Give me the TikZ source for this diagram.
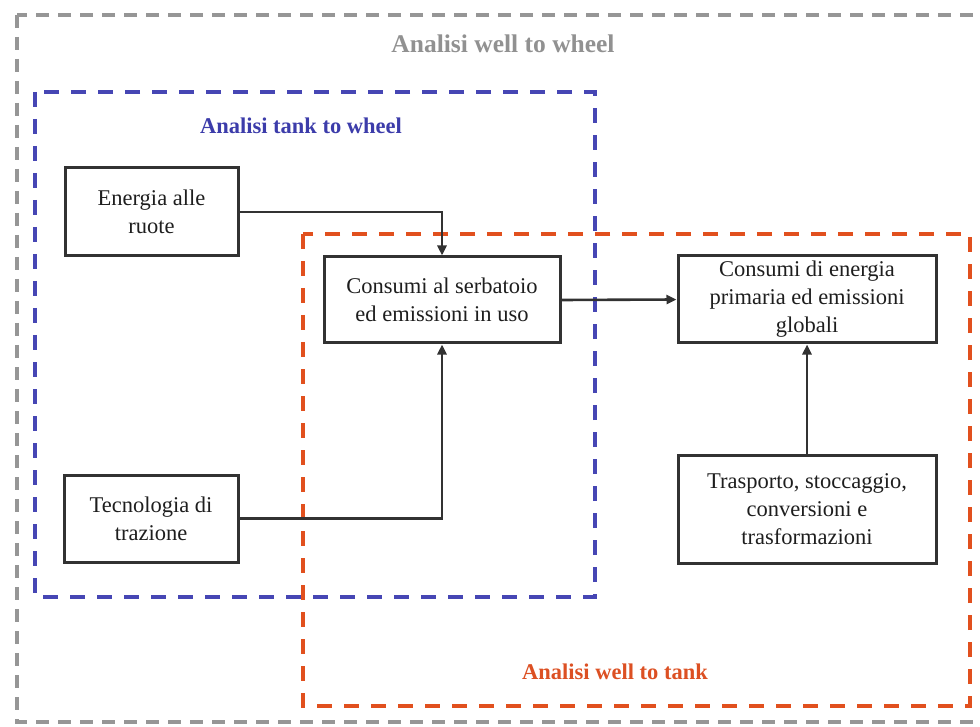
\documentclass[tikz,border=0pt]{standalone}
\usepackage{fontspec}
\setmainfont{Liberation Serif}
\usetikzlibrary{arrows.meta}
\definecolor{grayframe}{RGB}{150,150,150}
\definecolor{grayttl}{RGB}{145,145,145}
\definecolor{blueframe}{RGB}{70,70,180}
\definecolor{bluettl}{RGB}{60,60,170}
\definecolor{orangeframe}{RGB}{225,80,30}
\definecolor{orangettl}{RGB}{220,80,35}
\definecolor{boxline}{RGB}{50,50,50}
\definecolor{boxtext}{RGB}{30,30,30}
\tikzset{
  procbox/.style={draw=boxline, line width=3pt, align=center, inner sep=0pt,
    text=boxtext, font=\fontsize{22.5}{28}\selectfont},
  conn/.style={draw=boxline, line width=2.6pt,
    -{Triangle[length=10pt,width=9pt]}},
  frameg/.style={draw=grayframe, line width=4.5pt, dash pattern=on 13pt off 9pt},
  frameb/.style={draw=blueframe, line width=4.5pt, dash pattern=on 15pt off 12pt},
  frameo/.style={draw=orangeframe, line width=4.5pt, dash pattern=on 15pt off 12pt},
  ttl/.style={font=\bfseries\fontsize{22.5}{26}\selectfont, inner sep=0pt}
}
\begin{document}
\begin{tikzpicture}[x=1pt,y=-1pt]
\useasboundingbox (0,0) rectangle (980,727);
\begin{scope}
  \clip (0,0) rectangle (980,727);
  \draw[frameg] (17,15) rectangle (998,722);
\end{scope}
\draw[frameb] (35,92) rectangle (595,597);
\draw[frameo] (303,234) rectangle (970,706);

\node[ttl, text=grayttl, font=\bfseries\fontsize{25.5}{28}\selectfont] (tw) at (503,44) {Analisi well to wheel};
\node[ttl, text=bluettl] (tt) at (301,126) {Analisi tank to wheel};
\node[ttl, text=orangettl] (wt) at (615,672) {Analisi well to tank};

\node[procbox, minimum width=173pt, minimum height=88pt] (E) at (151.5,212) {Energia alle\\ruote};
\node[procbox, minimum width=236pt, minimum height=86pt] (C) at (442,300) {Consumi al serbatoio\\ed emissioni in uso};
\node[procbox, minimum width=258pt, minimum height=87pt] (P) at (807,299.5) {Consumi di energia\\primaria ed emissioni\\globali};
\node[procbox, minimum width=174pt, minimum height=87pt] (T) at (151,518.5) {Tecnologia di\\trazione};
\node[procbox, minimum width=258pt, minimum height=108pt] (S) at (807,509) {Trasporto, stoccaggio,\\conversioni e\\trasformazioni};

\draw[conn] (E.east) -| (C.north);
\draw[conn] (T.east) -| (C.south);
\draw[conn] (C.east) -- (P.west);
\draw[conn] (S.north) -- (P.south);
\end{tikzpicture}
\end{document}
